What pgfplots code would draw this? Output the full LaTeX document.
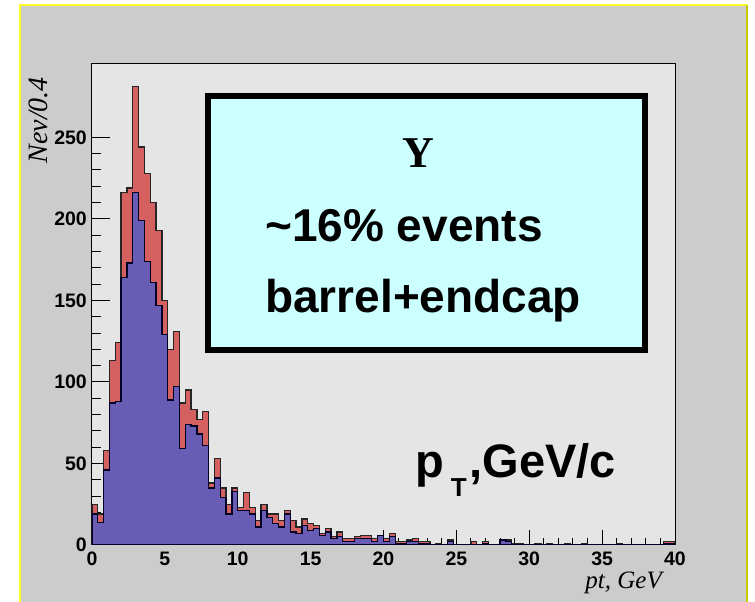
\documentclass[border=0pt]{standalone}
\usepackage{fontspec}
\setmainfont{Liberation Sans}
\newfontfamily\timesfont{Liberation Serif}
\usepackage{pgfplots}
\usepackage{pgfplotstable}
\pgfplotsset{compat=1.18}
\pgfdeclarelayer{background}
\pgfsetlayers{background,main}

\definecolor{padgray}{RGB}{204,204,204}
\definecolor{framegray}{RGB}{229,229,229}
\definecolor{histred}{RGB}{212,96,96}
\definecolor{histblue}{RGB}{104,92,180}
\definecolor{boxcyan}{RGB}{204,255,255}
\definecolor{borderyellow}{RGB}{255,255,40}
\definecolor{borderolive}{RGB}{200,200,0}

% pt spectrum, 0.4 GeV bins (left edges): all events and barrel+endcap subset
\pgfplotstableread{
x red blue
0.0 25 19
0.4 19 14
0.8 58 46
1.2 113 87
1.6 124 88
2.0 216 164
2.4 219 173
2.8 281 216
3.2 244 199
3.6 228 174
4.0 210 161
4.4 193 147
4.8 150 129
5.2 120 89
5.6 131 97
6.0 87 59
6.4 95 74
6.8 83 73
7.2 77 68
7.6 82 61
8.0 38 35
8.4 53 41
8.8 35 29
9.2 25 19
9.6 35 33
10.0 23 21
10.4 32 21
10.8 23 19
11.2 15 11
11.6 25 21
12.0 19 17
12.4 19 13
12.8 15 11
13.2 21 19
13.6 15 8
14.0 11 7
14.4 16 12
14.8 13 9
15.2 12 10
15.6 7 6
16.0 10 8
16.4 5 4
16.8 8 5
17.2 4 2
17.6 4 2
18.0 5 4
18.4 6 4
18.8 6 4
19.2 4 2
19.6 6 6
20.0 4 2
20.4 7 5
20.8 2 1
21.2 2 1
21.6 3 2
22.0 4 2
22.4 2 1
22.8 2 1
23.2 0 0
23.6 1 0
24.0 0 0
24.4 3 2
24.8 0 0
25.2 0 0
25.6 0 0
26.0 2 0
26.4 0 0
26.8 2 1
27.2 0 0
27.6 0 0
28.0 3 3
28.4 3 2
28.8 1 0
29.2 1 0
29.6 0 0
30.0 0 0
30.4 1 0
30.8 0 0
31.2 1 0
31.6 0 0
32.0 0 0
32.4 1 0
32.8 0 0
33.2 0 0
33.6 1 0
34.0 0 0
34.4 0 0
34.8 0 0
35.2 0 0
35.6 0 0
36.0 1 0
36.4 0 0
36.8 0 0
37.2 0 0
37.6 0 0
38.0 0 0
38.4 0 0
38.8 0 0
39.2 2 1
39.6 2 1
40.0 2 1
}\ptdata

\begin{document}
\begin{tikzpicture}[x=1pt,y=1pt]
\begin{axis}[
  name=ax,
  width=583pt, height=481pt, scale only axis,
  xmin=0, xmax=40, ymin=0, ymax=295,
  axis background/.style={fill=framegray},
  axis line style={black, line width=1pt},
  tick pos=left, tick align=inside,
  xtick={0,5,...,40}, ytick={0,50,...,250},
  minor x tick num=4, minor y tick num=4,
  xtick style={black, line width=1pt, /pgfplots/major tick length=15pt, /pgfplots/minor tick length=7pt},
  ytick style={black, line width=1pt, /pgfplots/major tick length=18pt, /pgfplots/minor tick length=9pt},
  /pgf/number format/assume math mode=true,
  xticklabel style={font=\fontsize{19.5}{19.5}\selectfont\bfseries, inner sep=0pt, yshift=-7pt},
  yticklabel style={font=\fontsize{19.5}{19.5}\selectfont\bfseries, inner sep=0pt, xshift=-5pt},
]
\addplot[const plot mark left, fill=histred, draw=black!85, line width=1.3pt]
  table[x=x, y=red]{\ptdata} \closedcycle;
\addplot[const plot mark left, fill=histblue, draw=black!85!blue, line width=1.3pt]
  table[x=x, y=blue]{\ptdata} \closedcycle;
\end{axis}

% everything else in canvas units, origin at the lower left of the canvas
\begin{scope}[shift={(ax.south west)}, xshift=-92pt, yshift=-57pt]
\useasboundingbox (0,0) rectangle (755,602);
\begin{pgfonlayer}{background}
\fill[white] (0,0) rectangle (755,602);
\fill[padgray] (20,0) rectangle (747,597);
\draw[borderyellow, line width=2] (20,0) -- (20,597) -- (747,597);
\draw[borderolive, line width=2] (747,597) -- (747,0);
\end{pgfonlayer}

% axis titles
\node[anchor=base east, inner sep=0pt, font=\timesfont\itshape\fontsize{25}{25}\selectfont]
  at (662,13) {pt, GeV};
\node[rotate=90, anchor=base east, inner sep=0pt, font=\timesfont\itshape\fontsize{28}{28}\selectfont]
  at (48,525) {Nev/0.4};

% info box
\draw[line width=6.5pt, fill=boxcyan] (208,252) rectangle (645,506);
\node[anchor=base, inner sep=0pt, font=\timesfont\bfseries\fontsize{44}{44}\selectfont]
  at (418,434) {Y};
\node[anchor=base west, inner sep=0pt, font=\bfseries\fontsize{46}{46}\selectfont]
  at (265,360) {\textasciitilde16\% events};
\node[anchor=base west, inner sep=0pt, font=\bfseries\fontsize{46}{46}\selectfont]
  at (265,289) {barrel+endcap};
\node[anchor=base west, inner sep=0pt, font=\bfseries\fontsize{47}{47}\selectfont]
  at (415,124) {p\hspace{7pt}\raisebox{-19pt}{\fontsize{26}{26}\selectfont T}\hspace{3pt},GeV/c};
\end{scope}
\end{tikzpicture}
\end{document}
